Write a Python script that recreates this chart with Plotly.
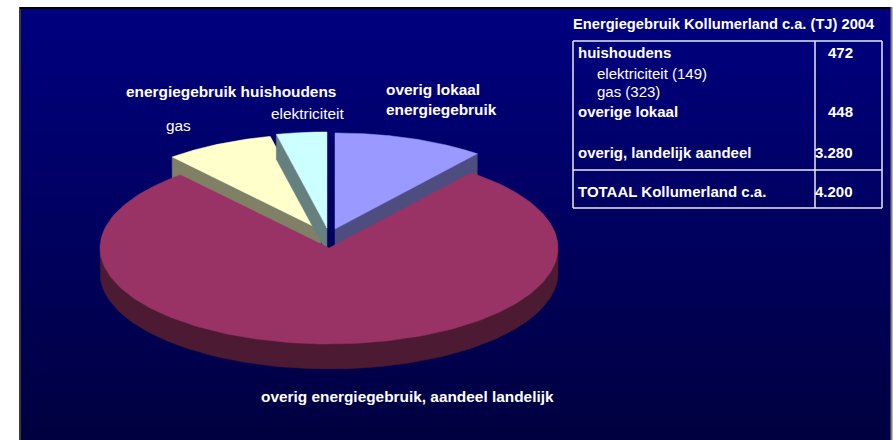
import numpy as np
import plotly.graph_objects as go

# Energiegebruik Kollumerland c.a. (TJ) 2004
slice_names = ["overig lokaal<br>energiegebruik", "overig energiegebruik, aandeel landelijk", "gas", "elektriciteit"]
slice_values = [448, 3280, 323, 149]
top_colors = ["#9999FF", "#993366", "#FFFFCC", "#CCFFFF"]
side_colors = ["#4D4D80", "#4D1A33", "#808066", "#668080"]
exploded = [True, False, True, True]

table_title = "Energiegebruik Kollumerland c.a. (TJ) 2004"
table_labels = ["huishoudens", "elektriciteit (149)", "gas (323)", "overige lokaal",
                "overig, landelijk aandeel", "TOTAAL Kollumerland c.a."]
table_values = ["472", "", "", "448", "3.280", "4.200"]

W, H = 893, 440
FONT = "Liberation Sans, Arial, sans-serif"

# pie geometry (pixels)
cx, cy = 329, 248
rx, ry = 229, 96
depth = 25
pull_x, pull_y = 0.08, 0.21

fig = go.Figure()

# background gradient
shapes = []
x0, x1, y0, y1 = 20, 891, 8, 440
n = 72
c_top = np.array([0, 0, 128])
c_bot = np.array([0, 0, 64])
for i in range(n):
    t = (i + 0.5) / n
    c = (c_top * (1 - t) + c_bot * t).round().astype(int)
    shapes.append(dict(type="rect", layer="below", x0=x0, x1=x1,
                       y0=y0 + (y1 - y0) * i / n, y1=y0 + (y1 - y0) * (i + 1) / n + 0.5,
                       fillcolor="rgb(%d,%d,%d)" % tuple(c), line=dict(width=0)))
shapes.append(dict(type="line", x0=20, x1=20, y0=7, y1=440, line=dict(color="#3a3a3a", width=2)))
shapes.append(dict(type="line", x0=20, x1=891, y0=8, y1=8, line=dict(color="#000000", width=2)))
shapes.append(dict(type="line", x0=891.5, x1=891.5, y0=7, y1=440, line=dict(color="#808080", width=2)))

total = sum(slice_values)
angles = []
start = 90.0
for v in slice_values:
    end = start - 360.0 * v / total
    angles.append((start, end))
    start = end


def pt(a, ox, oy, dz=0.0):
    r = np.radians(a)
    return cx + ox + rx * np.cos(r), cy + oy - ry * np.sin(r) + dz


def poly(xs, ys, color):
    fig.add_trace(go.Scatter(x=xs, y=ys, mode="lines", fill="toself", fillcolor=color,
                             line=dict(color=color, width=0.5), hoverinfo="skip",
                             showlegend=False))


def draw_slice(i):
    a0, a1 = angles[i]
    mid = np.radians((a0 + a1) / 2)
    ox = oy = 0.0
    if exploded[i]:
        ox = pull_x * rx * np.cos(mid)
        oy = -pull_y * ry * np.sin(mid)
    arc = np.linspace(a0, a1, 200)
    # radial side faces facing the viewer
    for edge, normal in ((a0, a0 + 90), (a1, a1 - 90)):
        if np.sin(np.radians(normal)) < -1e-6:
            ex, ey = pt(edge, ox, oy)
            px = [cx + ox, ex, ex, cx + ox, cx + ox]
            py = [cy + oy, ey, ey + depth, cy + oy + depth, cy + oy]
            poly(px, py, side_colors[i])
    # outer curved side (front half only)
    front = arc[np.sin(np.radians(arc)) <= 0]
    if len(front) > 1:
        tx, ty = pt(front, ox, oy)
        bx, by = pt(front[::-1], ox, oy, depth)
        poly(np.concatenate([tx, bx, tx[:1]]), np.concatenate([ty, by, ty[:1]]), side_colors[i])
    # top face
    ax, ay = pt(arc, ox, oy)
    poly(np.concatenate([[cx + ox], ax, [cx + ox]]), np.concatenate([[cy + oy], ay, [cy + oy]]),
         top_colors[i])


for i in [2, 3, 0, 1]:
    draw_slice(i)

ann = []


def text(x, y, s, size=15.4, bold=True, anchor="left"):
    ann.append(dict(x=x, y=y, text="<b>%s</b>" % s if bold else s, showarrow=False,
                    xanchor=anchor, yanchor="middle", align="left",
                    font=dict(family=FONT, size=size, color="white")))


# pie labels
text(124, 91, "energiegebruik huishoudens")
text(178, 125, slice_names[2], bold=False, anchor="center")
text(307, 113, slice_names[3], bold=False, anchor="center")
text(384, 99, slice_names[0])
text(407, 396, slice_names[1], anchor="center")

# table
text(571, 24, table_title, size=14.7)
row_y = [52, 73, 91, 111, 152, 191]
indent = [576, 595, 595, 576, 576, 576]
for lab, val, y, xi in zip(table_labels, table_values, row_y, indent):
    text(xi, y, lab, size=15, bold=(xi == 576))
    if val:
        text(855, y, val, size=15, anchor="right")

tl, tr, tt, tb = 573, 882, 41, 208
for s in [dict(x0=tl, x1=tr, y0=tt, y1=tt), dict(x0=tl, x1=tr, y0=tb, y1=tb),
          dict(x0=tl, x1=tl, y0=tt, y1=tb), dict(x0=tr, x1=tr, y0=tt, y1=tb),
          dict(x0=815, x1=815, y0=tt, y1=tb), dict(x0=tl, x1=tr, y0=170, y1=170)]:
    shapes.append(dict(type="line", line=dict(color="#E8E8E8", width=1.5), **s))

fig.update_layout(
    width=W, height=H, margin=dict(l=0, r=0, t=0, b=0),
    paper_bgcolor="white", plot_bgcolor="white",
    xaxis=dict(range=[0, W], visible=False, fixedrange=True),
    yaxis=dict(range=[H, 0], visible=False, fixedrange=True),
    shapes=shapes, annotations=ann, showlegend=False,
)

fig.write_html("out.html", config={"displayModeBar": False},
               post_script="document.body.style.margin='0';")
